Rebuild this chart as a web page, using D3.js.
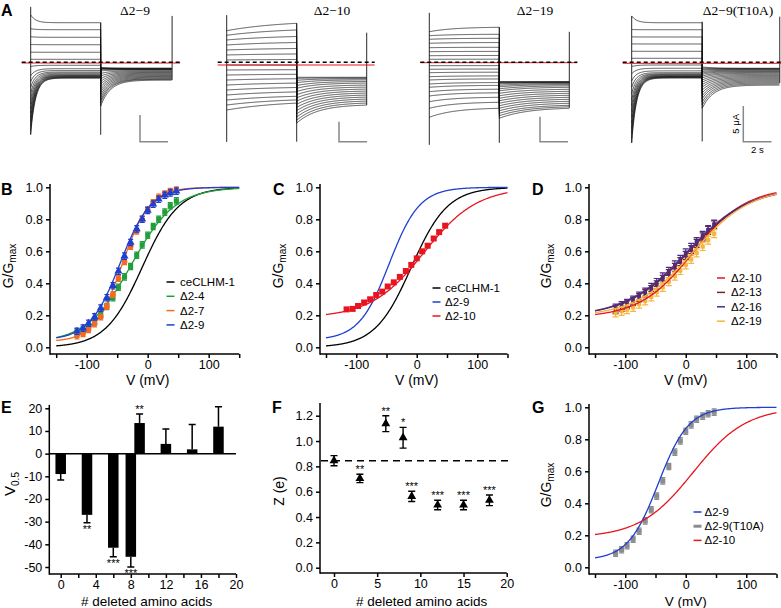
<!DOCTYPE html>
<html>
<head>
<meta charset="utf-8">
<script src="https://cdn.jsdelivr.net/npm/d3@7"></script>
<style>
  body { margin: 0; background: #fff; }
  svg { display: block; }
</style>
</head>
<body>
<svg id="fig" width="781" height="608"></svg>
<script>
// ---------- data ----------
// A: current traces (uA), one value per sweep
const traceTitles = ["Δ2−9", "Δ2−10", "Δ2−19", "Δ2−9(T10A)"];
const a1StepI0   = [8.9, 6.3, 4.8, 3.35, 1.9, 0.56, -0.8, -2.5, -3.6, -4.7, -5.8, -6.8, -7.8, -8.7, -9.6, -10.4, -11.2, -12.0, -12.8, -13.5];
const a1StepIend = [7.43, 6.12, 4.69, 3.3, 1.88, 0.56, -0.56, -1.2, -1.54, -1.82, -2.01, -2.2, -2.35, -2.48, -2.57, -2.66, -2.76, -2.83, -2.91, -2.96];
const a1TailI0   = [-8.2, -7.6, -7.1, -6.6, -6.1, -5.6, -5.1, -4.6, -4.1, -3.6, -3.1, -2.6, -2.1, -1.6, -1.3, -1.2, -1.15, -1.1, -1.05, -1.0];
const a1TailIend = [-3.35, -3.2, -3.1, -2.95, -2.8, -2.65, -2.5, -2.35, -2.2, -2.05, -1.9, -1.75, -1.6, -1.45, -1.35, -1.3, -1.25, -1.2, -1.15, -1.1];
const a1Spikes   = [[10.4, -13.6], [7.43, -13.6], [8.7, -3.3]];

const a2StepI0   = [7.9, 6.75, 5.58, 4.33, 3.08, 1.83, 0.58, -0.68, -1.93, -3.18, -4.43, -5.68, -6.93, -8.18, -9.43, -10.68, -11.93];
const a2StepIend = [9.75, 8.08, 6.45, 4.95, 3.45, 2.08, 0.7, -0.68, -1.85, -3.0, -4.1, -5.2, -6.3, -7.4, -8.5, -9.4, -10.2];
const a2TailI0   = [-15.2, -14.5, -13.7, -12.9, -12.1, -11.3, -10.5, -9.7, -8.9, -8.1, -7.3, -6.5, -5.8, -5.1, -4.5, -4.0, -3.75];
const a2TailIend = [-10.7, -10.2, -9.7, -9.2, -8.7, -8.2, -7.7, -7.2, -6.7, -6.2, -5.7, -5.2, -4.8, -4.4, -4.1, -3.9, -3.75];
const a2Spikes   = [[11.8, -19.9], [9.75, -19.85], [7.4, -10.7]];

const a3StepI0   = [6.12, 5.32, 4.6, 3.8, 2.92, 2.12, 1.32, 0.6, -0.68, -1.4, -2.08, -2.88, -3.54, -4.34, -5.0, -5.88, -6.74, -7.88, -9.2, -11.0];
const a3StepIend = [7.0, 5.6, 4.8, 3.95, 3.0, 2.18, 1.36, 0.62, -0.66, -1.35, -1.98, -2.72, -3.33, -4.05, -4.62, -5.38, -6.1, -7.0, -8.0, -9.2];
const a3TailI0   = [-11.2, -10.7, -10.2, -9.7, -9.2, -8.7, -8.2, -7.7, -7.2, -6.7, -6.2, -5.7, -5.3, -4.9, -4.6, -4.3, -4.1, -4.0, -3.9, -3.9];
const a3TailIend = [-9.2, -8.9, -8.6, -8.2, -7.8, -7.4, -7.0, -6.6, -6.2, -5.8, -5.4, -5.0, -4.7, -4.45, -4.25, -4.1, -4.0, -3.95, -3.9, -3.9];
const a3Spikes   = [[9.9, -16.5], [7.06, -16.1], [6.1, -9.1]];

const a4StepI0   = [6.5, 4.6, 3.57, 2.58, 1.55, 0.56, -0.6, -1.6, -2.6, -3.5, -4.4, -5.3, -6.1, -6.9, -7.7, -8.5, -9.3, -10.0, -10.7, -11.3];
const a4StepIend = [5.55, 4.57, 3.55, 2.57, 1.54, 0.56, -0.38, -0.84, -1.2, -1.45, -1.6, -1.7, -1.8, -1.88, -1.95, -2.0, -2.05, -2.1, -2.15, -2.2];
const a4TailI0   = [-6.45, -6.0, -5.55, -5.1, -4.7, -4.3, -3.9, -3.5, -3.15, -2.8, -2.5, -2.2, -1.95, -1.7, -1.5, -1.3, -1.1, -0.95, -0.8, -0.65];
const a4TailIend = [-3.2, -3.05, -2.9, -2.75, -2.6, -2.45, -2.3, -2.15, -2.0, -1.85, -1.7, -1.55, -1.42, -1.3, -1.2, -1.1, -1.0, -0.93, -0.88, -0.84];
const a4Spikes   = [[6.5, -11.3], [5.7, -11.1], [6.4, -2.9]];

// relaxation time constants (s): [step, tail]
const traceTau = [[0.35, 0.7], [4, 1.5], [1.8, 2], [0.35, 0.8]];

// G-V data (test voltages in mV)
const vSteps = [-116, -106, -97, -87, -77, -67, -57, -48, -38, -28, -18, -9, 0, 9, 18, 28, 37, 47];
const gD2_4  = [0.095, 0.11, 0.13, 0.165, 0.205, 0.255, 0.31, 0.375, 0.44, 0.505, 0.575, 0.64, 0.70, 0.755, 0.80, 0.845, 0.885, 0.915];
const gD2_7  = [0.07, 0.085, 0.11, 0.145, 0.19, 0.255, 0.33, 0.43, 0.535, 0.63, 0.725, 0.80, 0.86, 0.905, 0.94, 0.96, 0.975, 0.985];
const gD2_9  = [0.10, 0.12, 0.15, 0.19, 0.245, 0.31, 0.385, 0.475, 0.57, 0.655, 0.74, 0.80, 0.855, 0.895, 0.925, 0.95, 0.965, 0.975];
const gD2_10 = [0.237, 0.24, 0.258, 0.28, 0.30, 0.327, 0.348, 0.38, 0.406, 0.44, 0.477, 0.515, 0.556, 0.60, 0.635, 0.68, 0.72, 0.76];
const gD2_13 = [0.235, 0.25, 0.265, 0.285, 0.31, 0.335, 0.36, 0.39, 0.425, 0.46, 0.50, 0.535, 0.575, 0.61, 0.65, 0.69, 0.73, 0.77];
const gD2_16 = [0.245, 0.26, 0.275, 0.295, 0.32, 0.345, 0.375, 0.405, 0.44, 0.475, 0.515, 0.55, 0.59, 0.625, 0.66, 0.70, 0.735, 0.765];
const gD2_19 = [0.215, 0.225, 0.235, 0.25, 0.27, 0.29, 0.315, 0.345, 0.375, 0.41, 0.445, 0.48, 0.515, 0.55, 0.59, 0.63, 0.67, 0.71];
const gT10A  = [0.088, 0.11, 0.135, 0.175, 0.225, 0.29, 0.36, 0.445, 0.54, 0.63, 0.72, 0.79, 0.85, 0.89, 0.925, 0.945, 0.96, 0.97];

// Boltzmann fits
const fitNames = ["ceCLHM-1", "Δ2-4", "Δ2-7", "Δ2-9", "Δ2-10", "Δ2-13", "Δ2-16", "Δ2-19"];
const fitV05   = [-9, -27, -42, -45.5, 12, 4.3, 1.9, 11.9];
const fitSlope = [30, 36, 22.5, 25, 44, 51, 51, 48];
const fitBase  = [0, 0.03, 0.035, 0.045, 0.185, 0.19, 0.19, 0.19];

// E / F summary
const nDeleted = [0, 3, 6, 8, 9, 12, 15, 18];
const v05Mean  = [-9, -27, -41.5, -45.5, 13.5, 4.3, 1.9, 11.9];
const v05Err   = [2.6, 3.5, 4, 4.5, 4, 6.6, 10.9, 8.8];
const v05Stars = ["", "**", "***", "***", "**", "", "", ""];
const zMean    = [0.845, 0.705, 1.137, 1.026, 0.563, 0.495, 0.495, 0.532];
const zErr     = [0.04, 0.033, 0.063, 0.082, 0.04, 0.038, 0.038, 0.042];
const zStars   = ["", "**", "**", "*", "***", "***", "***", "***"];

// ---------- drawing ----------
const FONT = "'Liberation Sans', Arial, sans-serif";
const SERIF = "'Liberation Serif', 'Times New Roman', serif";
const C = { black: "#000", green: "#1f9e3a", orange: "#f26b21", blue: "#1f3fd0", red: "#e8141f",
            brown: "#6e2b25", purple: "#4b2a8f", yellow: "#f7b53d", gray: "#8c8c8c" };

const svg = d3.select("#fig").attr("font-family", FONT);
svg.append("rect").attr("width", 781).attr("height", 608).attr("fill", "#fff");

function letter(t, x, y) {
  svg.append("text").attr("x", x).attr("y", y).attr("font-size", 16)
    .attr("font-weight", "bold").text(t);
}

// ----- A: traces -----
const traceSets = [
  [a1StepI0, a1StepIend, a1TailI0, a1TailIend, a1Spikes],
  [a2StepI0, a2StepIend, a2TailI0, a2TailIend, a2Spikes],
  [a3StepI0, a3StepIend, a3TailI0, a3TailIend, a3Spikes],
  [a4StepI0, a4StepIend, a4TailI0, a4TailIend, a4Spikes]
];
const traceBox = [
  { x0: 30.7, pps: 14, tail: 5.1, gain: 5.33, red: 0.7, bar: [140, 141.7], tx: 135 },
  { x0: 226.7, pps: 14, tail: 5.0, gain: 4.0, red: 2.7, bar: [339, 141.7], tx: 332 },
  { x0: 429.3, pps: 14, tail: 5.0, gain: 5.0, red: 0.4, bar: [540, 141.7], tx: 535 },
  { x0: 631.7, pps: 14.1, tail: 5.5, gain: 7.13, red: 1.0, bar: [743.3, 141.7], tx: 738 }
];

function relax(i0, i1, tau, T, t) {
  const e = Math.exp(-T / tau);
  return i1 + (i0 - i1) * (Math.exp(-t / tau) - e) / (1 - e);
}

traceSets.forEach(([s0, s1, t0, t1, spikes], k) => {
  const b = traceBox[k];
  const g = svg.append("g");
  const tx = d3.scaleLinear().domain([0, 10]).range([b.x0, b.x0 + 10 * b.pps]);
  const iy = d3.scaleLinear().domain([0, 1]).range([62.3, 62.3 - b.gain]);
  const [tauS, tauT] = traceTau[k];
  const tStep = d3.range(0, 5.0001, 0.04);
  const tTail = d3.range(0, b.tail + 0.0001, 0.04);
  const line = d3.line().x(d => tx(d[0])).y(d => iy(d[1]));

  s0.forEach((_, i) => {
    const pts = tStep.map(t => [t, relax(s0[i], s1[i], tauS, 5, t)])
      .concat(tTail.map(t => [5 + t, relax(t0[i], t1[i], tauT, b.tail, t)]));
    g.append("path").attr("d", line(pts)).attr("fill", "none")
      .attr("stroke", "#111").attr("stroke-width", 0.7);
  });
  [0, 5, 5 + b.tail].forEach((t, j) => {
    g.append("line").attr("x1", tx(t)).attr("x2", tx(t))
      .attr("y1", iy(spikes[j][0])).attr("y2", iy(spikes[j][1]))
      .attr("stroke", "#111").attr("stroke-width", 0.9);
  });
  const xa = tx(0) - 9, xb = tx(5 + b.tail) + 8;
  g.append("line").attr("x1", xa).attr("x2", xb).attr("y1", iy(0) + b.red).attr("y2", iy(0) + b.red)
    .attr("stroke", C.red).attr("stroke-width", 1);
  g.append("line").attr("x1", xa).attr("x2", xb).attr("y1", iy(0)).attr("y2", iy(0))
    .attr("stroke", "#000").attr("stroke-width", 1.6).attr("stroke-dasharray", "4,3");
  // scale bar: 5 uA, 2 s
  const [bx, by] = b.bar;
  const h = iy(0) - iy(5), w = tx(2) - tx(0);
  g.append("path").attr("d", `M${bx},${by - h}V${by}H${bx + w}`)
    .attr("fill", "none").attr("stroke", "#888").attr("stroke-width", 1.5);
  if (k === 3) {
    g.append("text").attr("transform", `translate(${bx - 4},${by - h / 2}) rotate(-90)`)
      .attr("text-anchor", "middle").attr("font-size", 9.5).text("5 μA");
    g.append("text").attr("x", bx + w / 2).attr("y", by + 11)
      .attr("text-anchor", "middle").attr("font-size", 9.5).text("2 s");
  }
  g.append("text").attr("x", b.tx).attr("y", 14.5).attr("text-anchor", "middle")
    .attr("font-family", SERIF).attr("font-size", 13.5).text(traceTitles[k]);
});
letter("A", 1, 16);

// ----- axes helper -----
function axes(g, x, y, o) {
  const gy = g.append("g").attr("transform", `translate(${o.ax},0)`)
    .call(d3.axisLeft(y).tickValues(o.yTicks).tickFormat(o.yFmt).tickSize(4).tickPadding(3));
  const gx = g.append("g").attr("transform", `translate(0,${o.ay})`)
    .call(d3.axisBottom(x).tickValues(o.xTicks).tickFormat(o.xFmt).tickSize(4).tickPadding(2));
  [gx, gy].forEach(a => {
    a.attr("font-family", FONT).attr("font-size", 12.5);
    a.select(".domain").remove();
    a.selectAll(".tick line").attr("stroke-width", 1.5);
  });
  g.append("line").attr("x1", o.ax).attr("x2", o.ax).attr("y1", y(o.yTop)).attr("y2", o.ay + 0.75)
    .attr("stroke", "#000").attr("stroke-width", 1.5);
  g.append("line").attr("x1", o.ax).attr("x2", x(o.xEnd)).attr("y1", o.ay).attr("y2", o.ay)
    .attr("stroke", "#000").attr("stroke-width", 1.5);
}

function boltz(i, v) {
  return fitBase[i] + (1 - fitBase[i]) / (1 + Math.exp((fitV05[i] - v) / fitSlope[i]));
}

const SHAPES = { square: d3.symbolSquare, circle: d3.symbolCircle, triangle: d3.symbolTriangle };

function drawPoints(g, x, y, vals, err, color, shape, size, cap) {
  const s = g.append("g");
  vals.forEach((val, i) => {
    const cx = x(vSteps[i]);
    s.append("path")
      .attr("d", `M${cx},${y(val + err)}V${y(val - err)}M${cx - cap / 2},${y(val + err)}h${cap}M${cx - cap / 2},${y(val - err)}h${cap}`)
      .attr("stroke", color).attr("stroke-width", 1.2).attr("fill", "none");
    s.append("path").attr("d", d3.symbol(SHAPES[shape], size)())
      .attr("transform", `translate(${cx},${y(val)})`).attr("fill", color);
  });
}

function gvPanel(o) {
  const g = svg.append("g");
  const x = d3.scaleLinear().domain([-150, 150]).range(o.xr);
  const y = d3.scaleLinear().domain([0, 1]).range(o.yr);
  axes(g, x, y, {
    ax: o.ax, ay: o.ay, yTop: 1.02, xEnd: 150,
    yTicks: [0, 0.2, 0.4, 0.6, 0.8, 1.0], yFmt: d3.format(".1f"),
    xTicks: [-150, -100, -50, 0, 50, 100, 150], xFmt: d => (d % 100 === 0 ? String(d) : "")
  });
  const vs = d3.range(-150, 150.5, 1);
  const drawFits = () => o.fits.forEach(([idx, color]) => {
    g.append("path").attr("d", d3.line().x(v => x(v)).y(v => y(boltz(idx, v)))(vs))
      .attr("fill", "none").attr("stroke", color).attr("stroke-width", 1.3);
  });
  if (!o.linesOnTop) drawFits();
  o.series.forEach(s => drawPoints(g, x, y, s.vals, s.err, s.color, s.shape, s.size, s.cap));
  if (o.linesOnTop) drawFits();
  // legend
  o.legend.forEach(([name, color, lw], i) => {
    const ly = o.leg[2] + i * o.leg[3];
    g.append("line").attr("x1", o.leg[0]).attr("x2", o.leg[0] + 8).attr("y1", ly).attr("y2", ly)
      .attr("stroke", color).attr("stroke-width", lw || 1.5);
    g.append("text").attr("x", o.leg[1]).attr("y", ly + 4).attr("font-size", 11.5).text(name);
  });
  // axis titles
  const ty = g.append("text").attr("transform", `translate(${o.ylab[0]},${o.ylab[1]}) rotate(-90)`)
    .attr("text-anchor", "middle").attr("font-size", 14);
  ty.append("tspan").text("G/G");
  ty.append("tspan").attr("font-size", 10).attr("dy", 3).text("max");
  g.append("text").attr("x", x(0)).attr("y", o.ay + (o.xlabGap || 31)).attr("text-anchor", "middle")
    .attr("font-size", o.xlabSize || 14).text("V (mV)");
}

// B
gvPanel({
  xr: [56.2, 239.2], yr: [347.3, 187.3], ax: 50, ay: 354, ylab: [13, 266],
  fits: [[0, C.black], [1, C.green], [2, C.orange], [3, C.blue]],
  series: [
    { vals: gD2_4, err: 0.02, color: C.green, shape: "square", size: 26, cap: 5 },
    { vals: gD2_7, err: 0.018, color: C.orange, shape: "circle", size: 26, cap: 5 },
    { vals: gD2_9, err: 0.02, color: C.blue, shape: "triangle", size: 28, cap: 5 }
  ],
  legend: [["ceCLHM-1", C.black], ["Δ2-4", C.green], ["Δ2-7", C.orange], ["Δ2-9", C.blue]],
  leg: [166.5, 180, 282, 14.3]
});
letter("B", 1, 195);

// C
gvPanel({
  xr: [326, 507.5], yr: [347.3, 187.3], ax: 320, ay: 354, ylab: [283, 266],
  fits: [[0, C.black], [3, C.blue], [4, C.red]],
  series: [
    { vals: gD2_10, err: 0.01, color: C.red, shape: "square", size: 36, cap: 5 }
  ],
  legend: [["ceCLHM-1", C.black], ["Δ2-9", C.blue], ["Δ2-10", C.red]],
  leg: [432.5, 445, 288, 14]
});
letter("C", 273, 195);

// D
gvPanel({
  xr: [595, 776.5], yr: [347.3, 187.3], ax: 589, ay: 354, ylab: [551, 266], linesOnTop: true,
  fits: [[4, C.red], [5, C.brown], [6, C.purple], [7, C.yellow]],
  series: [
    { vals: gD2_13, err: 0.025, color: C.brown, shape: "square", size: 14, cap: 6 },
    { vals: gD2_16, err: 0.025, color: C.purple, shape: "square", size: 14, cap: 6 },
    { vals: gD2_19, err: 0.025, color: C.yellow, shape: "square", size: 18, cap: 6 }
  ],
  legend: [["Δ2-10", C.red], ["Δ2-13", C.brown], ["Δ2-16", C.purple], ["Δ2-19", C.yellow]],
  leg: [717, 731, 278, 14.4]
});
letter("D", 532, 195);

// G
gvPanel({
  xr: [595, 776.5], yr: [567.3, 407.3], ax: 589, ay: 574, ylab: [551, 485], linesOnTop: true,
  xlabGap: 31.5, xlabSize: 13.5,
  fits: [[3, C.blue], [4, C.red]],
  series: [
    { vals: gT10A, err: 0.02, color: C.gray, shape: "square", size: 26, cap: 5 }
  ],
  legend: [["Δ2-9", C.blue], ["Δ2-9(T10A)", C.gray, 3], ["Δ2-10", C.red]],
  leg: [693.5, 704.5, 512, 14.2]
});
letter("G", 532, 413);

// ----- E: V0.5 bars -----
{
  const g = svg.append("g");
  const x = d3.scaleLinear().domain([0, 20]).range([60.7, 236]);
  const y = d3.scaleLinear().domain([-50, 20]).range([567, 408.3]);
  axes(g, x, y, {
    ax: 49.3, ay: 574, yTop: 21.5, xEnd: 20,
    yTicks: [-50, -40, -30, -20, -10, 0, 10, 20], yFmt: d => String(d),
    xTicks: d3.range(0, 21, 2), xFmt: d => (d % 4 === 0 ? String(d) : "")
  });
  g.append("line").attr("x1", 49.3).attr("x2", x(20)).attr("y1", y(0)).attr("y2", y(0))
    .attr("stroke", "#000").attr("stroke-width", 1.5);
  const bw = x(1.2) - x(0);
  nDeleted.forEach((n, i) => {
    const v = v05Mean[i], sgn = v < 0 ? -1 : 1, e = v + sgn * v05Err[i];
    const cx = x(n);
    g.append("rect").attr("x", cx - bw / 2).attr("width", bw)
      .attr("y", Math.min(y(v), y(0))).attr("height", Math.abs(y(v) - y(0))).attr("fill", "#000");
    g.append("path").attr("d", `M${cx},${y(v)}V${y(e)}M${cx - 3.5},${y(e)}h7`)
      .attr("stroke", "#000").attr("stroke-width", 1.5).attr("fill", "none");
    if (v05Stars[i]) {
      g.append("text").attr("x", cx).attr("y", sgn < 0 ? y(e) + 10 : y(e) - 1)
        .attr("text-anchor", "middle").attr("font-size", 11).attr("fill", "#000").text(v05Stars[i]);
    }
  });
  const t = g.append("text").attr("transform", "translate(15,484) rotate(-90)")
    .attr("text-anchor", "middle").attr("font-size", 15);
  t.append("tspan").text("V");
  t.append("tspan").attr("font-size", 10).attr("dy", 4).text("0.5");
  g.append("text").attr("x", 146.7).attr("y", 606).attr("text-anchor", "middle")
    .attr("font-size", 13.5).text("# deleted amino acids");
}
letter("E", 1, 413);

// ----- F: valence -----
{
  const g = svg.append("g");
  const x = d3.scaleLinear().domain([0, 20]).range([334, 506.7]);
  const y = d3.scaleLinear().domain([0, 1.2]).range([567.7, 415.7]);
  axes(g, x, y, {
    ax: 320, ay: 573, yTop: 1.3, xEnd: 20,
    yTicks: [0, 0.2, 0.4, 0.6, 0.8, 1.0, 1.2], yFmt: d3.format(".1f"),
    xTicks: [0, 5, 10, 15, 20], xFmt: d => String(d)
  });
  g.append("line").attr("x1", 321).attr("x2", x(20) + 3).attr("y1", y(zMean[0])).attr("y2", y(zMean[0]))
    .attr("stroke", "#000").attr("stroke-width", 1.5).attr("stroke-dasharray", "7,5");
  nDeleted.forEach((n, i) => {
    const cx = x(n), hi = zMean[i] + zErr[i], lo = zMean[i] - zErr[i];
    g.append("path").attr("d", `M${cx},${y(hi)}V${y(lo)}M${cx - 3.5},${y(hi)}h7M${cx - 3.5},${y(lo)}h7`)
      .attr("stroke", "#000").attr("stroke-width", 1.4).attr("fill", "none");
    g.append("path").attr("d", d3.symbol(d3.symbolTriangle, 34)())
      .attr("transform", `translate(${cx},${y(zMean[i])})`).attr("fill", "#000");
    if (zStars[i]) {
      g.append("text").attr("x", cx).attr("y", y(hi) - 1).attr("text-anchor", "middle")
        .attr("font-size", 11).text(zStars[i]);
    }
  });
  g.append("text").attr("transform", "translate(284,491) rotate(-90)")
    .attr("text-anchor", "middle").attr("font-size", 14).text("Z (e)");
  g.append("text").attr("x", 421.7).attr("y", 606).attr("text-anchor", "middle")
    .attr("font-size", 13.5).text("# deleted amino acids");
}
letter("F", 272, 413);
</script>
</body>
</html>
